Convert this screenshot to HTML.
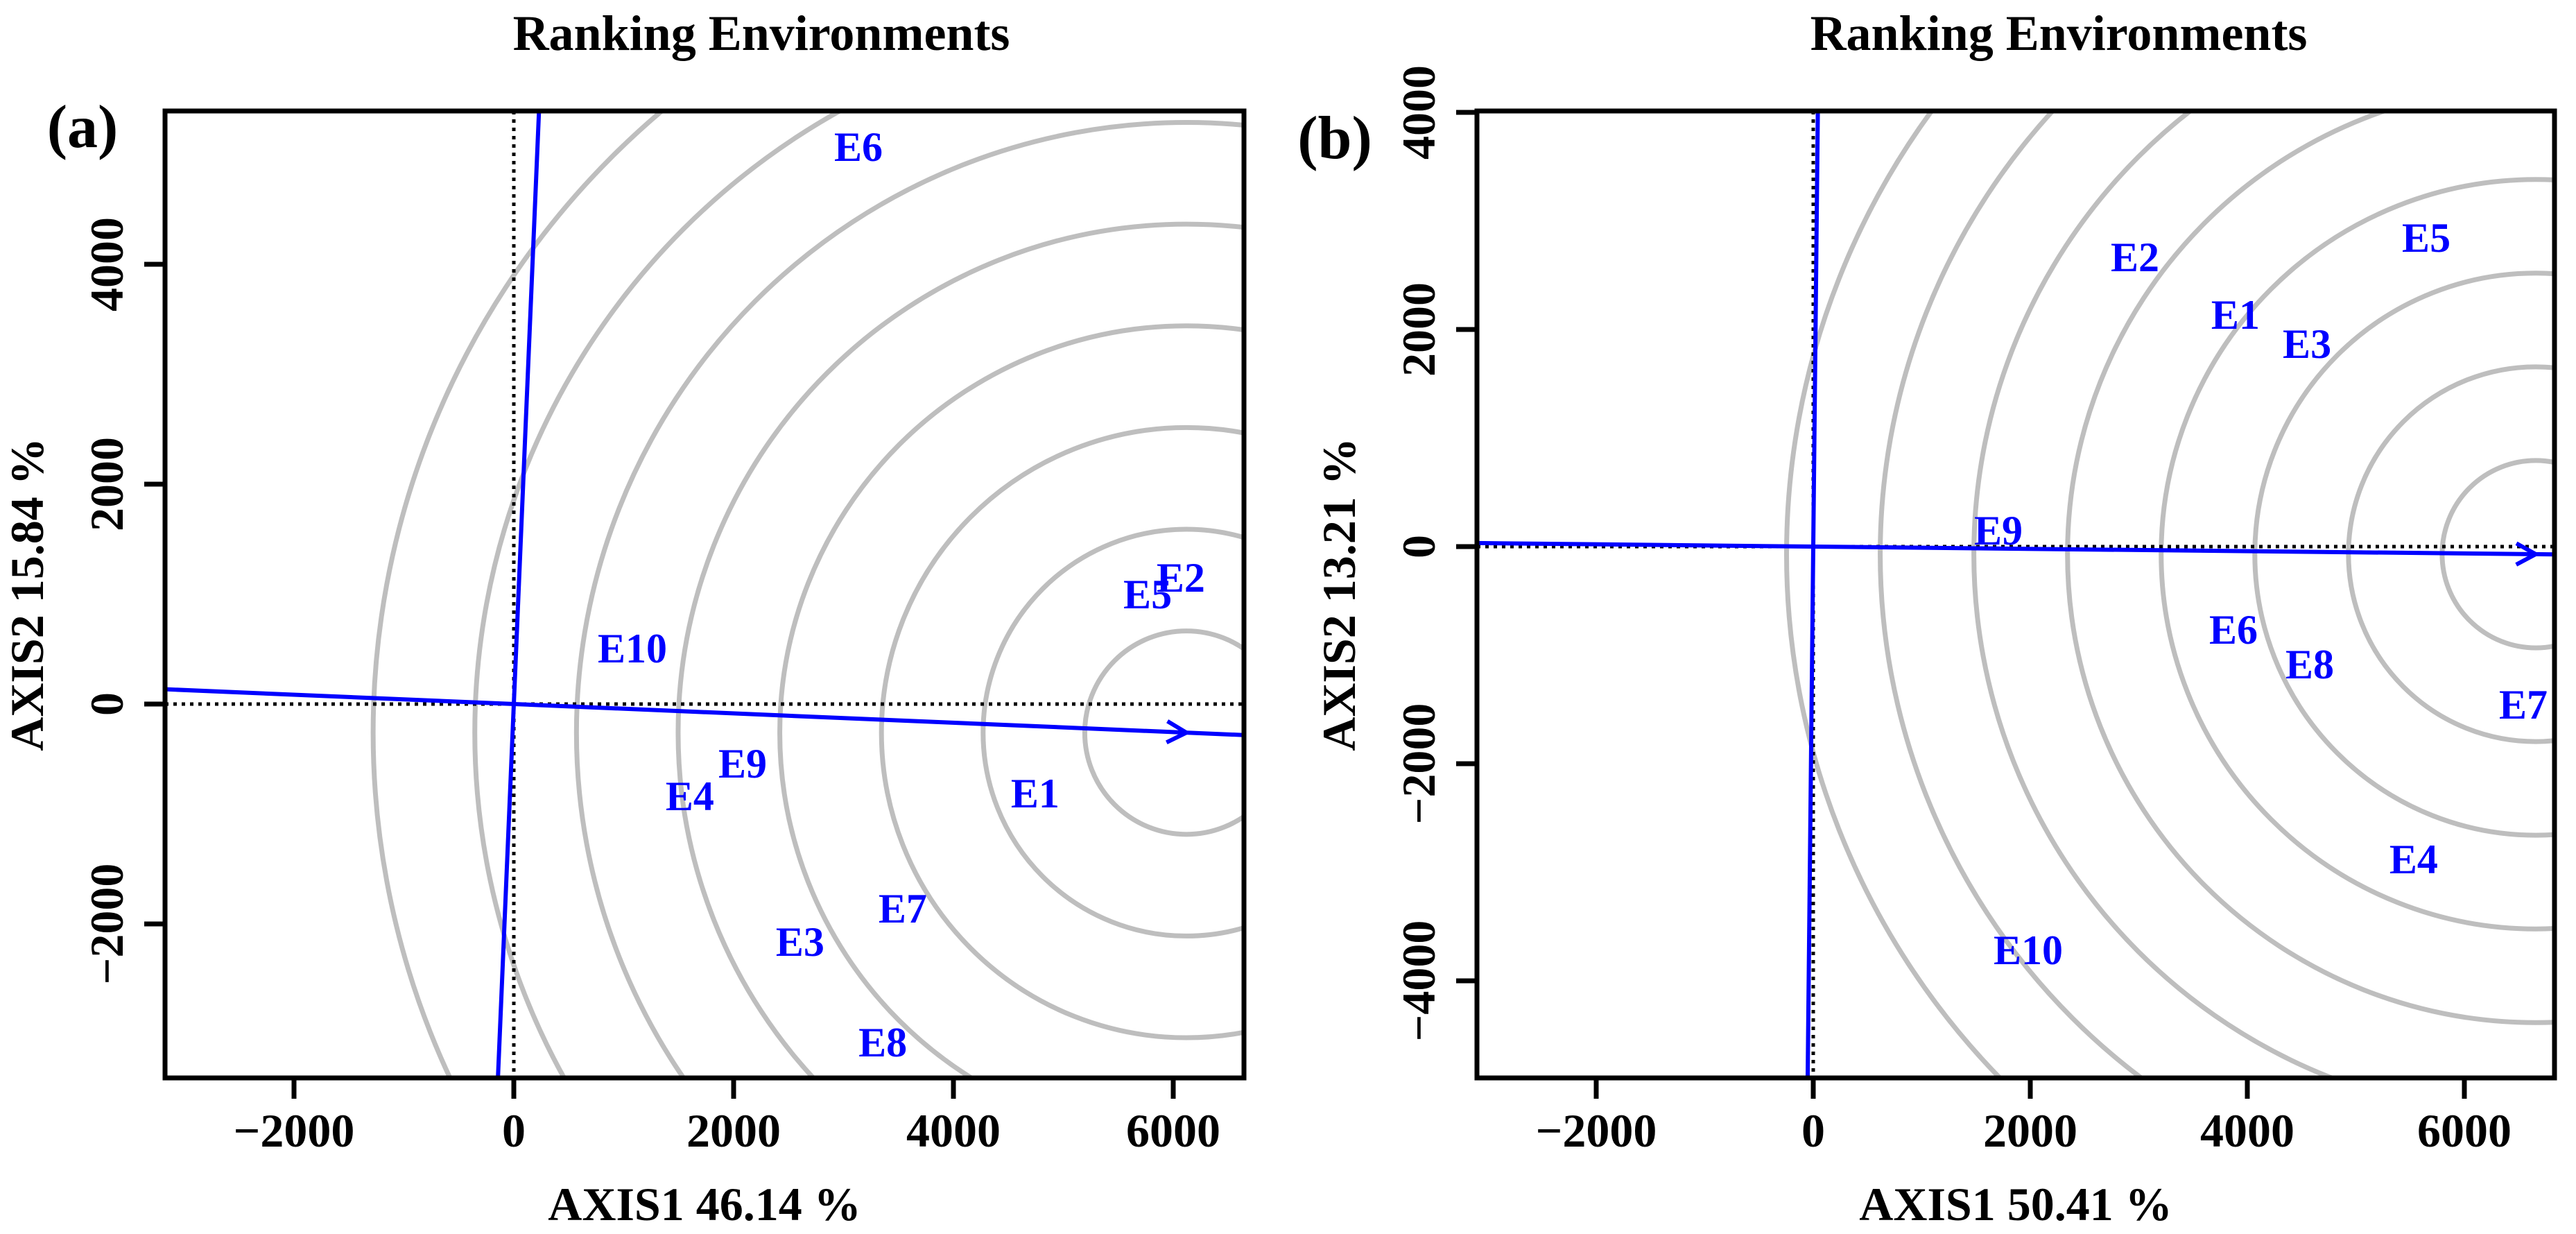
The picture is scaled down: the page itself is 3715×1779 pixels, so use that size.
<!DOCTYPE html>
<html><head><meta charset="utf-8"><style>
html,body{margin:0;padding:0;background:#fff;overflow:hidden;width:3715px;height:1779px;}
svg{display:block;font-family:"Liberation Serif",serif;font-weight:bold;}
</style></head><body>
<svg id="chart" width="3715" height="1779" viewBox="0 0 3715 1779" xmlns="http://www.w3.org/2000/svg">
</svg>
<script>
// Panel (a) data
const envA = ["E1","E2","E3","E4","E5","E6","E7","E8","E9","E10"];
const xA = [4744,6069,2605,1602,5767,3136,3539,3357,2082,1079];
const yA = [-808,1155,-2158,-833,1003,5072,-1855,-3072,-536,511];
const centerA = [6120,-260];
const ringStepA = 925;
const xTicksA = [-2000,0,2000,4000,6000];
const yTicksA = [-2000,0,2000,4000];
// Panel (b) data
const envB = ["E1","E2","E3","E4","E5","E6","E7","E8","E9","E10"];
const xB = [3891,2965,4550,5533,5649,3872,6543,4575,1706,1981];
const yB = [2141,2671,1872,-2875,2850,-760,-1450,-1080,153,-3713];
const centerB = [6658,-70];
const ringStepB = 863;
const xTicksB = [-2000,0,2000,4000,6000];
const yTicksB = [-4000,-2000,0,2000,4000];

const NS="http://www.w3.org/2000/svg";
const svg=document.getElementById('chart');
function mk(tag,attrs,parent){const e=document.createElementNS(NS,tag);for(const k in attrs)e.setAttribute(k,attrs[k]);(parent||svg).appendChild(e);return e;}

function panel(p){
  const g=mk('g',{});
  
  
  const sx=v=>p.x0+v*p.s, sy=v=>p.y0-v*p.s;
  const cid='clip-'+p.id;
  const cp=mk('clipPath',{id:cid},g);
  mk('rect',{x:p.L,y:p.T,width:p.R-p.L,height:p.B-p.T},cp);
  const pg=mk('g',{'clip-path':'url(#'+cid+')'},g);
  for(let k=1;k<=8;k++){
    const c=mk('circle',{cx:sx(p.center[0]),cy:sy(p.center[1]),r:k*p.step*p.s,fill:'none',stroke:'#bebebe','stroke-width':7},pg);
    
    
  }
  const dh=mk('line',{x1:p.L,x2:p.R,y1:sy(0),y2:sy(0),stroke:'#000','stroke-width':5,'stroke-dasharray':'5 7'},pg);
  
  
  const dv=mk('line',{x1:sx(0),x2:sx(0),y1:p.T,y2:p.B,stroke:'#000','stroke-width':5,'stroke-dasharray':'5 7'},pg);
  
  
  const cx=p.center[0], cy=p.center[1], len=Math.hypot(cx,cy), ux=cx/len, uy=cy/len, F=20000;
  const ae=mk('line',{x1:sx(-ux*F),y1:sy(-uy*F),x2:sx(ux*F),y2:sy(uy*F),stroke:'#0000ff','stroke-width':6},pg);
  
  
  const pe=mk('line',{x1:sx(uy*F),y1:sy(-ux*F),x2:sx(-uy*F),y2:sy(ux*F),stroke:'#0000ff','stroke-width':6},pg);
  
  
  const ax=sx(cx), ay=sy(cy), ang=Math.atan2(-uy,ux), h=32;
  const a1=ang+Math.PI-0.5, a2=ang+Math.PI+0.5;
  const ar=mk('polyline',{points:`${ax+h*Math.cos(a1)},${ay+h*Math.sin(a1)} ${ax},${ay} ${ax+h*Math.cos(a2)},${ay+h*Math.sin(a2)}`,fill:'none',stroke:'#0000ff','stroke-width':6},pg);
  
  
  p.env.forEach((n,i)=>{
    const t=mk('text',{x:sx(p.xs[i]),y:sy(p.ys[i])+21,'text-anchor':'middle','font-size':60,fill:'#0000ff'},g);
    t.textContent=n;
    
    
  });
  const box=mk('rect',{x:p.L,y:p.T,width:p.R-p.L,height:p.B-p.T,fill:'none',stroke:'#000','stroke-width':7},g);
  
  
  p.xt.forEach(v=>{
    const tl=mk('line',{x1:sx(v),x2:sx(v),y1:p.B,y2:p.B+30,stroke:'#000','stroke-width':7},g);
    
    
    const tx=mk('text',{x:sx(v),y:1653,'text-anchor':'middle','font-size':68},g);
    tx.textContent=(v<0?'\u2212':'')+Math.abs(v);
    
    
  });
  p.yt.forEach(v=>{
    const tl=mk('line',{x1:p.L-30,x2:p.L,y1:sy(v),y2:sy(v),stroke:'#000','stroke-width':7},g);
    
    
    const tx=mk('text',{x:0,y:0,'text-anchor':'middle','font-size':68,transform:`translate(${p.ytx},${sy(v)}) rotate(-90)`},g);
    tx.textContent=(v<0?'\u2212':'')+Math.abs(v);
    
    
  });
  const ti=mk('text',{x:p.tcx,y:72,'text-anchor':'middle','font-size':72},g);
  ti.textContent='Ranking Environments';
  
  
  const xl=mk('text',{x:(p.L+p.R)/2,y:1759,'text-anchor':'middle','font-size':68},g);
  xl.textContent=p.xlab;
  
  
  const yl=mk('text',{x:0,y:0,'text-anchor':'middle','font-size':68,transform:`translate(${p.ylx},${(p.T+p.B)/2}) rotate(-90)`},g);
  yl.textContent=p.ylab;
  
  
  const pl=mk('text',{x:p.plx,y:p.ply,'text-anchor':'middle','font-size':88},g);
  pl.textContent=p.tag;
  
  
}
panel({id:'a',L:238,R:1794,T:160,B:1554,x0:741,y0:1015,s:0.1585,center:centerA,step:ringStepA,
  env:envA,xs:xA,ys:yA,xt:xTicksA,yt:yTicksA,ytx:177,ylx:62,tcx:1098,xlab:'AXIS1 46.14 %',ylab:'AXIS2 15.84 %',tag:'(a)',plx:119,ply:212});
panel({id:'b',L:2130,R:3684,T:160,B:1554,x0:2615,y0:788,s:0.1565,center:centerB,step:ringStepB,
  env:envB,xs:xB,ys:yB,xt:xTicksB,yt:yTicksB,ytx:2069,ylx:1954,tcx:2969,xlab:'AXIS1 50.41 %',ylab:'AXIS2 13.21 %',tag:'(b)',plx:1925,ply:228});
</script>
</body></html>
